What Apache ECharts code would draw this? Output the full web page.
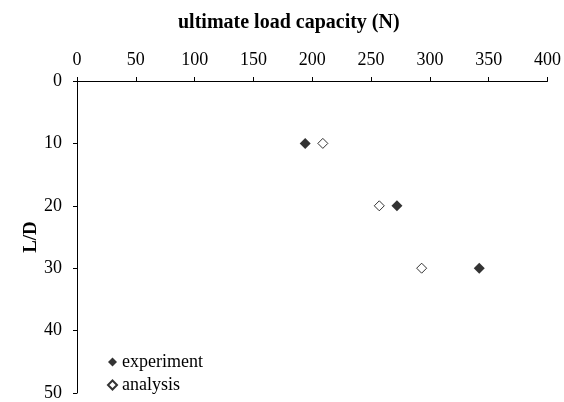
<!DOCTYPE html>
<html><head><meta charset="utf-8">
<script src="https://cdn.jsdelivr.net/npm/echarts@6/dist/echarts.min.js"></script>
<style>html,body{margin:0;padding:0;background:#fff}#c{width:564px;height:402px}</style>
</head><body><div id="c"></div>
<script>
const ldValues = [10, 20, 30];
const experiment = [194, 272, 342];
const analysis = [209, 257, 293];
const xTicks = [0, 400, 50];
const yTicks = [0, 50, 10];
const font = '"Liberation Serif", "Times New Roman", serif';

const chart = echarts.init(document.getElementById('c'));
chart.setOption({
  animation: false,
  backgroundColor: '#fff',
  textStyle: { fontFamily: font },
  grid: { left: 77, right: 16, top: 81, bottom: 8, containLabel: false },
  title: {
    text: 'ultimate load capacity (N)',
    left: 173, top: 8,
    textStyle: { fontFamily: font, fontWeight: 'bold', fontSize: 20, color: '#000' }
  },
  legend: {
    orient: 'vertical', left: 102, top: 348, itemGap: 5,
    itemWidth: 9, itemHeight: 9,
    textStyle: { fontFamily: font, fontSize: 18, color: '#000' },
    data: [
      { name: 'experiment', icon: 'diamond' },
      { name: 'analysis', icon: 'diamond' }
    ]
  },
  xAxis: {
    type: 'value', position: 'top',
    min: xTicks[0], max: xTicks[1], interval: xTicks[2],
    axisLine: { show: true, onZero: false, lineStyle: { color: '#000', width: 1 } },
    axisTick: { show: true, length: 4, lineStyle: { color: '#000' } },
    axisLabel: { fontFamily: font, fontSize: 18, color: '#000', margin: 12 },
    splitLine: { show: false }
  },
  yAxis: {
    type: 'value', inverse: true, name: 'L/D', nameLocation: 'middle', nameGap: 36,
    nameMoveOverlap: false,
    nameTextStyle: { fontFamily: font, fontWeight: 'bold', fontSize: 19, color: '#000' },
    min: yTicks[0], max: yTicks[1], interval: yTicks[2],
    axisLine: { show: true, onZero: false, lineStyle: { color: '#000', width: 1 } },
    axisTick: { show: true, length: 4, lineStyle: { color: '#000' } },
    axisLabel: { fontFamily: font, fontSize: 18, color: '#000', margin: 15 },
    splitLine: { show: false }
  },
  series: [
    {
      name: 'experiment', type: 'scatter', symbol: 'diamond', symbolSize: 11,
      itemStyle: { color: '#000', borderColor: '#000', borderWidth: 0 },
      data: experiment.map((v, i) => [v, ldValues[i]])
    },
    {
      name: 'analysis', type: 'scatter', symbol: 'diamond', symbolSize: 10,
      itemStyle: { color: '#fff', borderColor: '#000', borderWidth: 1 },
      data: analysis.map((v, i) => [v, ldValues[i]])
    }
  ]
});
</script></body></html>
